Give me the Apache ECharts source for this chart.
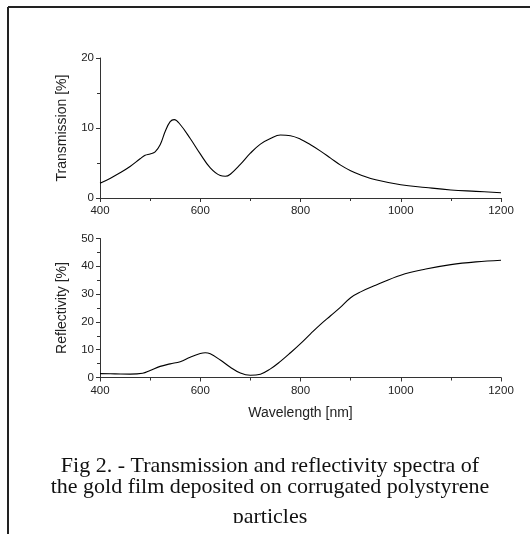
<!DOCTYPE html>
<html>
<head>
<meta charset="utf-8">
<script src="https://cdn.jsdelivr.net/npm/echarts@6/dist/echarts.min.js"></script>
<style>
html,body{margin:0;padding:0;background:#fff;}
#chart{width:530px;height:534px;}
</style>
</head>
<body>
<div id="chart"></div>
<script>
// Wavelength [nm] for transmission spectrum
var transWavelength = [400,420,440,460,480,490,500,510,520,530,540,548,560,580,600,620,640,650,660,680,700,720,740,760,780,800,820,840,860,880,900,920,950,1000,1050,1100,1150,1200];
var transValues     = [2.1,2.8,3.6,4.5,5.6,6.1,6.3,6.6,7.6,9.5,10.9,11.2,10.5,8.5,6.3,4.3,3.2,3.1,3.4,4.8,6.4,7.7,8.5,9.0,8.9,8.4,7.6,6.7,5.7,4.7,3.9,3.3,2.6,1.9,1.5,1.15,0.95,0.75];

// Wavelength [nm] for reflectivity spectrum
var reflWavelength = [400,430,460,485,500,520,540,560,580,600,610,620,640,660,680,700,720,740,760,780,800,820,840,860,880,900,920,950,1000,1050,1100,1150,1200];
var reflValues     = [1.4,1.3,1.2,1.5,2.5,4.0,4.9,5.7,7.3,8.6,8.9,8.5,6.3,3.7,1.6,0.8,1.2,3.1,5.8,8.9,12.2,15.7,19.1,22.2,25.3,28.7,30.8,33.2,36.8,39.0,40.6,41.6,42.2];

var xTicks = [400,600,800,1000,1200];
var transTicks = [0,10,20];
var reflTicks = [0,10,20,30,40,50];

var captionLines = [
  'Fig 2. - Transmission and reflectivity spectra of',
  'the gold film deposited on corrugated polystyrene',
  'particles'
];

function pairs(xs, ys){ return xs.map(function(x,i){ return [x, ys[i]]; }); }

var axisFont = {fontFamily:'Liberation Sans, Arial, sans-serif', fontSize:11.5, color:'#222'};
var nameFont = {fontFamily:'Liberation Sans, Arial, sans-serif', fontSize:14, color:'#222'};

function xAxisCfg(gi, withName){
  var c = {
    type:'value', gridIndex:gi, min:xTicks[0], max:xTicks[xTicks.length-1], interval:200,
    axisLine:{lineStyle:{color:'#333', width:1}},
    axisTick:{show:true, length:4, lineStyle:{color:'#333'}},
    minorTick:{show:true, splitNumber:2, length:3, lineStyle:{color:'#333'}},
    splitLine:{show:false},
    axisLabel:Object.assign({margin:7, formatter:function(v){return String(v);}}, axisFont)
  };
  if(withName){
    c.name='Wavelength [nm]'; c.nameLocation='middle'; c.nameGap=29; c.nameTextStyle=nameFont;
  }
  return c;
}
function yAxisCfg(gi, ticks, name){
  return {
    type:'value', gridIndex:gi, min:ticks[0], max:ticks[ticks.length-1], interval:10,
    axisLine:{show:true, lineStyle:{color:'#333', width:1}},
    axisTick:{show:true, length:4, lineStyle:{color:'#333'}},
    minorTick:{show:true, splitNumber:2, length:3, lineStyle:{color:'#333'}},
    splitLine:{show:false},
    axisLabel:Object.assign({margin:6}, axisFont),
    name:name, nameLocation:'middle', nameGap:31, nameTextStyle:nameFont
  };
}

var chart = echarts.init(document.getElementById('chart'), null, {renderer:'canvas'});
var graphics = [
  {type:'line', shape:{x1:8, y1:7, x2:530, y2:7}, style:{stroke:'#222', lineWidth:2}},
  {type:'line', shape:{x1:8, y1:7, x2:8, y2:534}, style:{stroke:'#222', lineWidth:2}}
];
var capY = [466, 487, 517];
captionLines.forEach(function(t,i){
  graphics.push({type:'text', x:270, y:capY[i], style:{text:t, font:'22px "Liberation Serif", "Times New Roman", serif', fill:'#111', align:'center', verticalAlign:'middle'}});
});
graphics.push({type:'rect', shape:{x:10, y:523, width:520, height:11}, style:{fill:'#fff'}, z:100});

chart.setOption({
  animation:false,
  backgroundColor:'#fff',
  grid:[
    {left:100, top:58, width:401, height:140},
    {left:100, top:238.5, width:401, height:139}
  ],
  xAxis:[xAxisCfg(0,false), xAxisCfg(1,true)],
  yAxis:[yAxisCfg(0, transTicks, 'Transmission [%]'), yAxisCfg(1, reflTicks, 'Reflectivity [%]')],
  series:[
    {type:'line', xAxisIndex:0, yAxisIndex:0, data:pairs(transWavelength, transValues), smooth:0.4, showSymbol:false, lineStyle:{color:'#000', width:1.1}},
    {type:'line', xAxisIndex:1, yAxisIndex:1, data:pairs(reflWavelength, reflValues), smooth:0.4, showSymbol:false, lineStyle:{color:'#000', width:1.1}}
  ],
  graphic:graphics
});
</script>
</body>
</html>
